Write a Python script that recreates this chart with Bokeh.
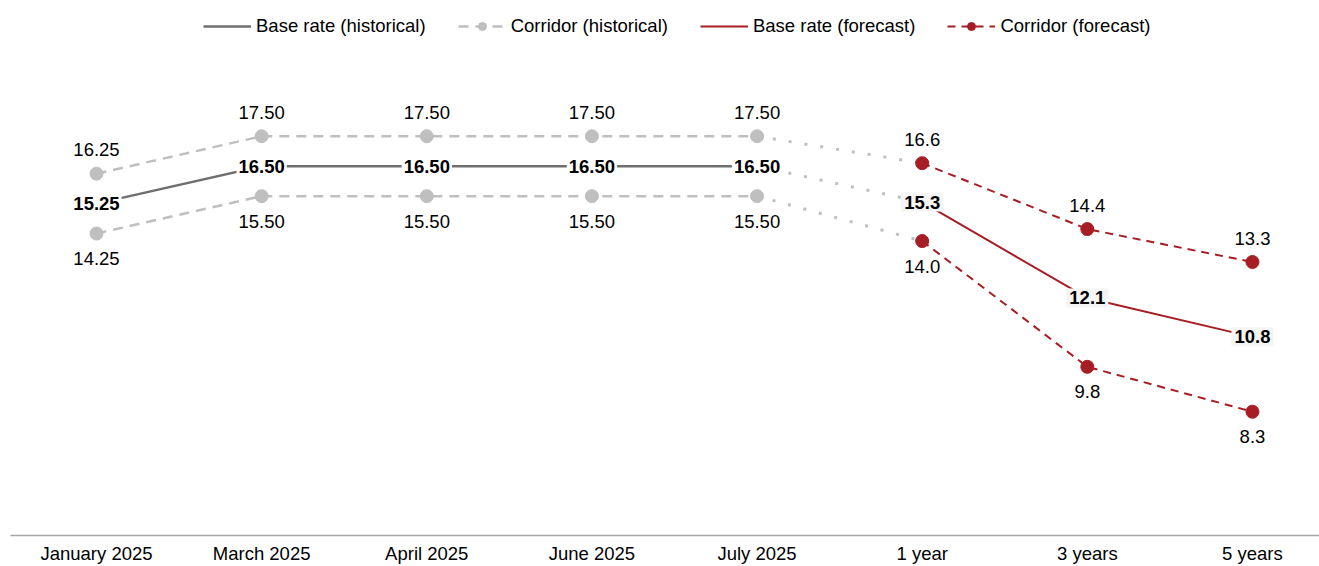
from bokeh.plotting import figure
from bokeh.models import (ColumnDataSource, LabelSet, Label, Range1d, FixedTicker,
                          Legend, LegendItem)
from bokeh.core.properties import value
from bokeh.embed import file_html
from bokeh.resources import INLINE

# ---------------- data ----------------
categories = ["January 2025", "March 2025", "April 2025", "June 2025",
              "July 2025", "1 year", "3 years", "5 years"]
hist_base = [15.25, 16.50, 16.50, 16.50, 16.50]
hist_upper = [16.25, 17.50, 17.50, 17.50, 17.50]
hist_lower = [14.25, 15.50, 15.50, 15.50, 15.50]
fc_base = [15.3, 12.1, 10.8]
fc_upper = [16.6, 14.4, 13.3]
fc_lower = [14.0, 9.8, 8.3]

legend_labels = ["Base rate (historical)", "Corridor (historical)",
                 "Base rate (forecast)", "Corridor (forecast)"]

# ---------------- styles ----------------
FONT = "Liberation Sans"
FS = "18.5px"
GREY = "#6f6f6f"
LGREY = "#bfbfbf"
RED = "#a61d24"

hist_x = list(range(len(hist_base)))
fc_x = list(range(len(hist_base), len(categories)))

p = figure(width=1319, height=566, output_backend="svg", toolbar_location=None,
           x_range=Range1d(-0.5208, 7.406), y_range=Range1d(4.167, 22.033),
           min_border_left=10, min_border_right=0, min_border_top=0,
           min_border_bottom=30)
p.outline_line_color = None
p.xgrid.visible = False
p.ygrid.visible = False
p.yaxis.visible = False
p.background_fill_color = "white"

xa = p.xaxis[0]
xa.ticker = FixedTicker(ticks=list(range(len(categories))))
xa.major_label_overrides = {i: c for i, c in enumerate(categories)}
xa.major_tick_line_color = None
xa.major_tick_out = 0
xa.major_tick_in = 0
xa.minor_tick_line_color = None
xa.minor_tick_out = 0
xa.axis_line_color = "#a6a6a6"
xa.axis_line_width = 1.5
xa.major_label_text_font = FONT
xa.major_label_text_font_size = FS
xa.major_label_text_color = "#000000"
xa.major_label_standoff = 7

# connectors (dotted) between last historical and first forecast
for h, f in ((hist_upper, fc_upper), (hist_base, fc_base), (hist_lower, fc_lower)):
    p.line([hist_x[-1], fc_x[0]], [h[-1], f[0]], line_color=LGREY,
           line_width=3, line_dash="3 13")

# historical
r_hbase = p.line(hist_x, hist_base, line_color=GREY, line_width=2.5)
r_hup = p.line(hist_x, hist_upper, line_color=LGREY, line_width=2.5, line_dash="10 7")
p.line(hist_x, hist_lower, line_color=LGREY, line_width=2.5, line_dash="10 7")
r_hsc = p.scatter(hist_x + hist_x, hist_upper + hist_lower, size=13,
                  fill_color=LGREY, line_color=LGREY)

# forecast
r_fbase = p.line(fc_x, fc_base, line_color=RED, line_width=2)
r_fup = p.line(fc_x, fc_upper, line_color=RED, line_width=2, line_dash="8 6")
p.line(fc_x, fc_lower, line_color=RED, line_width=2, line_dash="8 6")
r_fsc = p.scatter(fc_x + fc_x, fc_upper + fc_lower, size=13,
                  fill_color=RED, line_color=RED)

# corridor labels
up_src = ColumnDataSource(dict(
    x=hist_x + fc_x, y=hist_upper + fc_upper,
    t=[f"{v:.2f}" for v in hist_upper] + [f"{v:.1f}" for v in fc_upper]))
lo_src = ColumnDataSource(dict(
    x=hist_x + fc_x, y=hist_lower + fc_lower,
    t=[f"{v:.2f}" for v in hist_lower] + [f"{v:.1f}" for v in fc_lower]))
p.add_layout(LabelSet(x="x", y="y", text="t", source=up_src, y_offset=24,
                      text_align="center", text_baseline="middle",
                      text_font=value(FONT), text_font_size=value(FS),
                      text_color="#000000"))
p.add_layout(LabelSet(x="x", y="y", text="t", source=lo_src, y_offset=-25,
                      text_align="center", text_baseline="middle",
                      text_font=value(FONT), text_font_size=value(FS),
                      text_color="#000000"))

# base labels (bold, with background)
for x, v in zip(hist_x, hist_base):
    p.add_layout(Label(x=x, y=v, text=f"{v:.2f}", text_align="center",
                       text_baseline="middle", text_font=FONT, text_font_size=FS,
                       text_font_style="bold", text_color="#000000",
                       background_fill_color="white", padding=2))
for x, v in zip(fc_x, fc_base):
    p.add_layout(Label(x=x, y=v, text=f"{v:.1f}", text_align="center",
                       text_baseline="middle", text_font=FONT, text_font_size=FS,
                       text_font_style="bold", text_color="#000000",
                       background_fill_color="#f5f5f5", padding=3))

legend = Legend(items=[
    LegendItem(label=legend_labels[0], renderers=[r_hbase]),
    LegendItem(label=legend_labels[1], renderers=[r_hup, r_hsc]),
    LegendItem(label=legend_labels[2], renderers=[r_fbase]),
    LegendItem(label=legend_labels[3], renderers=[r_fup, r_fsc]),
], orientation="horizontal", location=(193, 498), padding=0, margin=0,
   spacing=32, glyph_width=48, glyph_height=20, label_height=20,
   label_standoff=5, label_text_font=FONT, label_text_font_size=FS,
   label_text_color="#000000", border_line_alpha=0, background_fill_alpha=0)
p.add_layout(legend)

open("out.html", "w").write(file_html(p, INLINE))
